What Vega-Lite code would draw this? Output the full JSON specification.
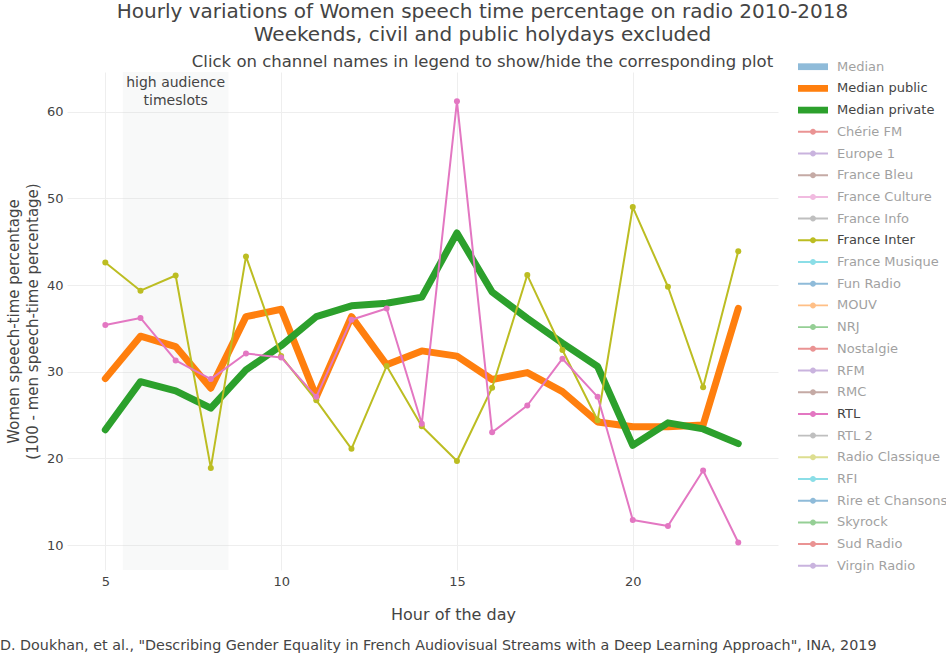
{
  "$schema": "https://vega.github.io/schema/vega-lite/v6.json",
  "width": 711,
  "height": 498,
  "autosize": {"type": "none"},
  "padding": {"left": 67, "top": 72, "right": 168, "bottom": 84},
  "background": "white",
  "title": {
    "text": ["Hourly variations of Women speech time percentage on radio 2010-2018", "Weekends, civil and public holydays excluded"],
    "subtitle": "Click on channel names in legend to show/hide the corresponding plot",
    "anchor": "middle",
    "dx": 60,
    "fontSize": 20,
    "fontWeight": "normal",
    "color": "#444",
    "lineHeight": 23,
    "subtitleFontSize": 16.5,
    "subtitleColor": "#444",
    "subtitlePadding": 9,
    "offset": -11
  },
  "datasets": {
    "radio": [
      {"series": "Median public", "hour": 5, "pct": 29.2},
      {"series": "Median public", "hour": 6, "pct": 34.1},
      {"series": "Median public", "hour": 7, "pct": 32.9},
      {"series": "Median public", "hour": 8, "pct": 28.1},
      {"series": "Median public", "hour": 9, "pct": 36.35},
      {"series": "Median public", "hour": 10, "pct": 37.2},
      {"series": "Median public", "hour": 11, "pct": 27.1},
      {"series": "Median public", "hour": 12, "pct": 36.35},
      {"series": "Median public", "hour": 13, "pct": 30.8},
      {"series": "Median public", "hour": 14, "pct": 32.4},
      {"series": "Median public", "hour": 15, "pct": 31.8},
      {"series": "Median public", "hour": 16, "pct": 29.1},
      {"series": "Median public", "hour": 17, "pct": 29.9},
      {"series": "Median public", "hour": 18, "pct": 27.7},
      {"series": "Median public", "hour": 19, "pct": 24.2},
      {"series": "Median public", "hour": 20, "pct": 23.65},
      {"series": "Median public", "hour": 21, "pct": 23.65},
      {"series": "Median public", "hour": 22, "pct": 23.85},
      {"series": "Median public", "hour": 23, "pct": 37.3},
      {"series": "Median private", "hour": 5, "pct": 23.3},
      {"series": "Median private", "hour": 6, "pct": 28.85},
      {"series": "Median private", "hour": 7, "pct": 27.8},
      {"series": "Median private", "hour": 8, "pct": 25.8},
      {"series": "Median private", "hour": 9, "pct": 30.2},
      {"series": "Median private", "hour": 10, "pct": 33.0},
      {"series": "Median private", "hour": 11, "pct": 36.35},
      {"series": "Median private", "hour": 12, "pct": 37.6},
      {"series": "Median private", "hour": 13, "pct": 37.9},
      {"series": "Median private", "hour": 14, "pct": 38.6},
      {"series": "Median private", "hour": 15, "pct": 46.0},
      {"series": "Median private", "hour": 16, "pct": 39.2},
      {"series": "Median private", "hour": 17, "pct": 36.15},
      {"series": "Median private", "hour": 18, "pct": 33.3},
      {"series": "Median private", "hour": 19, "pct": 30.6},
      {"series": "Median private", "hour": 20, "pct": 21.5},
      {"series": "Median private", "hour": 21, "pct": 24.1},
      {"series": "Median private", "hour": 22, "pct": 23.4},
      {"series": "Median private", "hour": 23, "pct": 21.7},
      {"series": "France Inter", "hour": 5, "pct": 42.6},
      {"series": "France Inter", "hour": 6, "pct": 39.35},
      {"series": "France Inter", "hour": 7, "pct": 41.1},
      {"series": "France Inter", "hour": 8, "pct": 18.9},
      {"series": "France Inter", "hour": 9, "pct": 43.3},
      {"series": "France Inter", "hour": 10, "pct": 31.8},
      {"series": "France Inter", "hour": 11, "pct": 26.7},
      {"series": "France Inter", "hour": 12, "pct": 21.1},
      {"series": "France Inter", "hour": 13, "pct": 30.65},
      {"series": "France Inter", "hour": 14, "pct": 23.7},
      {"series": "France Inter", "hour": 15, "pct": 19.7},
      {"series": "France Inter", "hour": 16, "pct": 28.15},
      {"series": "France Inter", "hour": 17, "pct": 41.15},
      {"series": "France Inter", "hour": 18, "pct": 32.5},
      {"series": "France Inter", "hour": 19, "pct": 24.4},
      {"series": "France Inter", "hour": 20, "pct": 49.0},
      {"series": "France Inter", "hour": 21, "pct": 39.8},
      {"series": "France Inter", "hour": 22, "pct": 28.2},
      {"series": "France Inter", "hour": 23, "pct": 43.9},
      {"series": "RTL", "hour": 5, "pct": 35.4},
      {"series": "RTL", "hour": 6, "pct": 36.2},
      {"series": "RTL", "hour": 7, "pct": 31.3},
      {"series": "RTL", "hour": 8, "pct": 29.15},
      {"series": "RTL", "hour": 9, "pct": 32.1},
      {"series": "RTL", "hour": 10, "pct": 31.65},
      {"series": "RTL", "hour": 11, "pct": 27.1},
      {"series": "RTL", "hour": 12, "pct": 36.0},
      {"series": "RTL", "hour": 13, "pct": 37.3},
      {"series": "RTL", "hour": 14, "pct": 24.0},
      {"series": "RTL", "hour": 15, "pct": 61.2},
      {"series": "RTL", "hour": 16, "pct": 23.0},
      {"series": "RTL", "hour": 17, "pct": 26.1},
      {"series": "RTL", "hour": 18, "pct": 31.5},
      {"series": "RTL", "hour": 19, "pct": 27.1},
      {"series": "RTL", "hour": 20, "pct": 12.9},
      {"series": "RTL", "hour": 21, "pct": 12.2},
      {"series": "RTL", "hour": 22, "pct": 18.6},
      {"series": "RTL", "hour": 23, "pct": 10.3}
    ]
  },
  "layer": [
    {
      "data": {"values": [{"start": 5.5, "end": 8.5}]},
      "mark": {"type": "rect", "color": "#c9d3d3", "opacity": 0.13},
      "encoding": {
        "x": {"field": "start", "type": "quantitative"},
        "x2": {"field": "end"}
      }
    },
    {
      "data": {"values": [{"hour": 7, "pct": 64.1, "label": "high audience\ntimeslots"}]},
      "mark": {"type": "text", "baseline": "top", "align": "center", "fontSize": 14, "lineHeight": 18, "lineBreak": "\n", "color": "#444"},
      "encoding": {
        "x": {"field": "hour", "type": "quantitative"},
        "y": {"field": "pct", "type": "quantitative"},
        "text": {"field": "label"}
      }
    },
    {
      "data": {"values": [{"hour": 2.005, "pct": -1.6, "label": "D. Doukhan, et al., \"Describing Gender Equality in French Audiovisual Streams with a Deep Learning Approach\", INA, 2019"}]},
      "mark": {"type": "text", "baseline": "middle", "align": "left", "fontSize": 14.3, "color": "#444", "clip": false},
      "encoding": {
        "x": {"field": "hour", "type": "quantitative"},
        "y": {"field": "pct", "type": "quantitative"},
        "text": {"field": "label"}
      }
    },
    {
      "data": {"name": "radio"},
      "encoding": {
        "x": {
          "field": "hour",
          "type": "quantitative",
          "scale": {"domain": [3.91, 24.13], "nice": false, "zero": false},
          "axis": {"values": [5, 10, 15, 20], "title": "Hour of the day", "titleFontSize": 16, "titlePadding": 18, "titleX": 386, "labelPadding": 5}
        },
        "y": {
          "field": "pct",
          "type": "quantitative",
          "scale": {"domain": [7.12, 64.58], "nice": false, "zero": false},
          "axis": {"values": [10, 20, 30, 40, 50, 60], "title": ["Women speech-time percentage", "(100 - men speech-time percentage)"], "titleFontSize": 15, "titleLineHeight": 19, "titlePadding": 6, "labelPadding": 4}
        },
        "color": {
          "field": "series",
          "type": "nominal",
          "scale": {
            "domain": ["Median", "Median public", "Median private", "Chérie FM", "Europe 1", "France Bleu", "France Culture", "France Info", "France Inter", "France Musique", "Fun Radio", "MOUV", "NRJ", "Nostalgie", "RFM", "RMC", "RTL", "RTL 2", "Radio Classique", "RFI", "Rire et Chansons", "Skyrock", "Sud Radio", "Virgin Radio"],
            "range": ["#1f77b4", "#ff7f0e", "#2ca02c", "#d62728", "#9467bd", "#8c564b", "#e377c2", "#7f7f7f", "#bcbd22", "#17becf", "#1f77b4", "#ff7f0e", "#2ca02c", "#d62728", "#9467bd", "#8c564b", "#e377c2", "#7f7f7f", "#bcbd22", "#17becf", "#1f77b4", "#2ca02c", "#d62728", "#9467bd"]
          },
          "legend": {
            "orient": "none",
            "legendX": 738.5,
            "legendY": -12.8,
            "direction": "vertical",
            "title": null,
            "labelFontSize": 13,
            "labelColor": "#444",
            "labelLimit": 200,
            "symbolSize": 225,
            "rowPadding": 6.7,
            "labelOffset": 16.5,
            "symbolStrokeWidth": 0,
            "encode": {
              "symbols": {
                "update": {
                  "fill": {"scale": "color", "field": "value"},
                  "strokeWidth": {"value": 0},
                  "shape": [
                    {"test": "indexof(['Median','Median public','Median private'], datum.value) >= 0", "value": "M-2,-0.45L2,-0.45L2,0.45L-2,0.45Z"},
                    {"value": "M-2,-0.13L2,-0.13L2,0.13L-2,0.13Z M0.4,0A0.4,0.4 0 1 1 -0.4,0A0.4,0.4 0 1 1 0.4,0Z"}
                  ],
                  "opacity": [
                    {"test": "indexof(['Median public','Median private','France Inter','RTL'], datum.value) >= 0", "value": 1},
                    {"value": 0.5}
                  ]
                }
              },
              "labels": {
                "update": {
                  "opacity": [
                    {"test": "indexof(['Median public','Median private','France Inter','RTL'], datum.value) >= 0", "value": 1},
                    {"value": 0.5}
                  ]
                }
              }
            }
          }
        }
      },
      "layer": [
        {
          "transform": [{"filter": "indexof(datum.series, 'Median') == 0"}],
          "mark": {"type": "line", "strokeWidth": 7, "strokeJoin": "round", "strokeCap": "round"}
        },
        {
          "transform": [{"filter": "indexof(datum.series, 'Median') != 0"}],
          "mark": {"type": "line", "strokeWidth": 2, "strokeJoin": "round"}
        },
        {
          "transform": [{"filter": "indexof(datum.series, 'Median') != 0"}],
          "mark": {"type": "point", "filled": true, "opacity": 1, "size": 36}
        }
      ]
    }
  ],
  "config": {
    "font": "DejaVu Sans",
    "view": {"stroke": null},
    "axis": {
      "grid": true,
      "gridColor": "#eeeeee",
      "domain": false,
      "ticks": false,
      "labelFontSize": 13,
      "labelColor": "#444",
      "titleColor": "#444",
      "titleFontWeight": "normal"
    }
  }
}
